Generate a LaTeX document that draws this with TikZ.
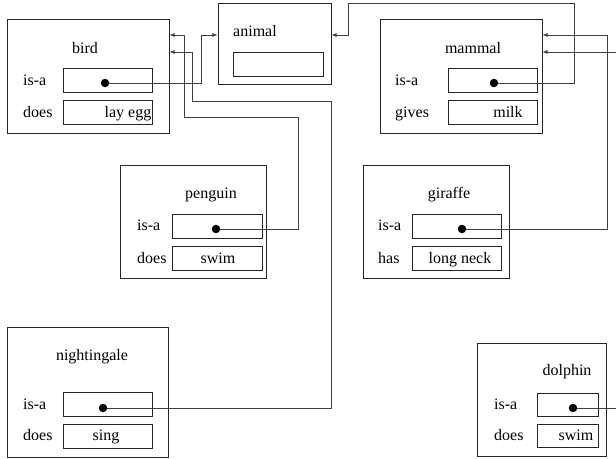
\documentclass[tikz,border=0pt]{standalone}
\usepackage{fontspec}
\setmainfont{Liberation Serif}

\tikzset{
	frame/.style = {draw = black!85, line width = 0.8pt, inner sep = 0pt},
	slot/.style = {draw = black!85, line width = 0.8pt, inner sep = 0pt, minimum height = 24pt},
	dot/.style = {circle, fill = black, inner sep = 0pt, minimum size = 8.5pt},
	word/.style = {inner sep = 0pt, anchor = base},
	slotname/.style = {inner sep = 0pt, anchor = base west},
	link/.style = {->, black!75, line width = 0.8pt}
}

\begin{document}
\begin{tikzpicture}[> = latex, x = 1pt, y = -1pt, font = \fontsize{16}{19}\selectfont]

	\useasboundingbox (0, 0) rectangle (616, 458);
	\clip (0, 0) rectangle (616, 458);

	% Frames

	\node [frame, minimum width = 162pt, minimum height = 114pt] (bird) at (88, 76) {};
	\node [frame, minimum width = 113pt, minimum height = 81pt] (animal) at (274.5, 43.5) {};
	\node [frame, minimum width = 162pt, minimum height = 114pt] (mammal) at (461, 76) {};
	\node [frame, minimum width = 146pt, minimum height = 113pt] (penguin) at (193, 221.5) {};
	\node [frame, minimum width = 146pt, minimum height = 113pt] (giraffe) at (436, 221.5) {};
	\node [frame, minimum width = 161pt, minimum height = 130pt] (nightingale) at (87.5, 392) {};
	\node [frame, minimum width = 129pt, minimum height = 113pt] (dolphin) at (541.5, 399.5) {};

	% Titles

	\node [word] (bird title) at (85, 53) {bird};
	\node [word] (animal title) at (255, 36) {animal};
	\node [word] (mammal title) at (473, 53) {mammal};
	\node [word] (penguin title) at (211, 198) {penguin};
	\node [word] (giraffe title) at (449, 198) {giraffe};
	\node [word] (nightingale title) at (92, 360) {nightingale};
	\node [word] (dolphin title) at (567, 375) {dolphin};

	% Slots

	\node [slot, minimum width = 89pt] (bird isa) at (107.5, 80) {};
	\node [slot, minimum width = 89pt] (bird does) at (107.5, 112.5) {};
	\node [slot, minimum width = 90pt] (animal slot) at (278, 64) {};
	\node [slot, minimum width = 89pt] (mammal isa) at (492.5, 80) {};
	\node [slot, minimum width = 89pt] (mammal gives) at (492.5, 112.5) {};
	\node [slot, minimum width = 90pt] (penguin isa) at (217, 226) {};
	\node [slot, minimum width = 90pt] (penguin does) at (217, 258.5) {};
	\node [slot, minimum width = 89pt] (giraffe isa) at (456.5, 226) {};
	\node [slot, minimum width = 89pt] (giraffe has) at (456.5, 258.5) {};
	\node [slot, minimum width = 89pt] (nightingale isa) at (107.5, 404.5) {};
	\node [slot, minimum width = 89pt] (nightingale does) at (107.5, 436) {};
	\node [slot, minimum width = 61pt, minimum height = 23pt] (dolphin isa) at (567.5, 405) {};
	\node [slot, minimum width = 61pt, minimum height = 23pt] (dolphin does) at (567.5, 436) {};

	% Slot names and values

	\node [slotname] at (23, 85) {is-a};
	\node [slotname] at (23, 117) {does};
	\node [word] at (128, 117) {lay egg};

	\node [slotname] at (395, 85) {is-a};
	\node [slotname] at (395, 117) {gives};
	\node [word] at (508, 117) {milk};

	\node [slotname] at (137, 230.5) {is-a};
	\node [slotname] at (137, 263) {does};
	\node [word] at (218, 263) {swim};

	\node [slotname] at (378, 230.5) {is-a};
	\node [slotname] at (378, 263) {has};
	\node [word] at (460, 263) {long neck};

	\node [slotname] at (23, 409) {is-a};
	\node [slotname] at (23, 440.5) {does};
	\node [word] at (106, 440.5) {sing};

	\node [slotname] at (494, 409.5) {is-a};
	\node [slotname] at (494, 440.5) {does};
	\node [word] at (576, 440.5) {swim};

	% Pointers

	\node [dot] (bird dot) at (105, 83) {};
	\node [dot] (mammal dot) at (494, 83) {};
	\node [dot] (penguin dot) at (216, 229) {};
	\node [dot] (giraffe dot) at (462, 229) {};
	\node [dot] (nightingale dot) at (103, 408) {};
	\node [dot] (dolphin dot) at (573, 408) {};

	% Links

	\draw [link] (bird dot.east) -| (201, 35) -- (animal.west |- 0, 35);
	\draw [link] (mammal dot.east) -| (574, 3) -| (348, 35) -- (animal.east |- 0, 35);
	\draw [link] (penguin dot.east) -| (298, 117) -| (184, 35) -- (bird.east |- 0, 35);
	\draw [link] (nightingale dot.east) -| (331, 101) -| (192, 52) -- (bird.east |- 0, 52);
	\draw [link] (giraffe dot.east) -| (607, 35) -- (mammal.east |- 0, 35);
	\draw [link] (dolphin dot.east) -| (622, 52) -- (mammal.east |- 0, 52);

\end{tikzpicture}
\end{document}
